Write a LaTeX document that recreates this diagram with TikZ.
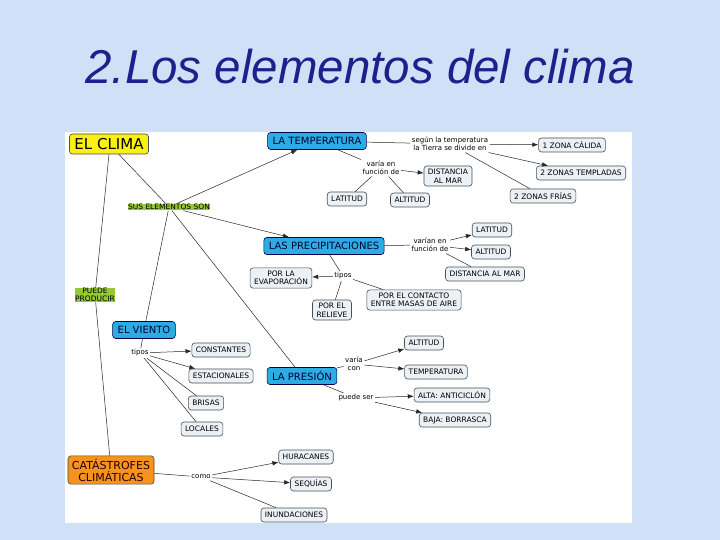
\documentclass[tikz,border=0pt]{standalone}
\usepackage{fontspec}
\setmainfont{DejaVu Sans}
\newfontfamily\titlefont{Liberation Sans}
\usepackage{tikz}
\usetikzlibrary{arrows.meta, positioning}
\definecolor{skyback}{RGB}{208,225,247}
\definecolor{titleblue}{RGB}{30,32,140}
\definecolor{mapblue}{RGB}{45,172,228}
\definecolor{mapyellow}{RGB}{250,240,20}
\definecolor{maporange}{RGB}{246,146,30}
\definecolor{mapgreen}{RGB}{150,200,50}
\definecolor{boxfill}{RGB}{236,241,245}
\definecolor{boxline}{RGB}{70,80,90}

\begin{document}
\begin{tikzpicture}[x=1pt, y=-1pt,
  concept/.style={draw=boxline, fill=boxfill, rounded corners=3pt, line width=0.6pt,
    font=\fontsize{7.5}{8.5}\selectfont, align=center, inner xsep=4pt, inner ysep=3pt, minimum height=14pt},
  mainbox/.style={concept, fill=mapblue, draw=black!70!blue, text=black!80!blue,
    font=\fontsize{10}{11}\selectfont, inner xsep=5pt, minimum height=17pt},
  linktext/.style={font=\fontsize{7}{8}\selectfont, align=center, inner sep=1.5pt},
  tagtext/.style={fill=mapgreen, font=\fontsize{7.5}{7.5}\selectfont, align=center, inner sep=0.6pt},
  wire/.style={draw=black!85, line width=0.5pt},
  arr/.style={wire, -{Latex[length=6pt,width=4.5pt]}}]
  \useasboundingbox (0,0) rectangle (720,540);

  % background
  \fill[skyback] (0,0) rectangle (720,540);
  \fill[white] (65,132) rectangle (632,523);
  \node[font=\titlefont\itshape\fontsize{47.5}{47.5}\selectfont, text=titleblue, anchor=base] (title) at (360,84) {2.Los elementos del clima};

  % main concepts
  \node[mainbox, fill=mapyellow, draw=black!70, text=black, font=\fontsize{15}{16}\selectfont, minimum height=20pt] (clima) at (109,144) {EL CLIMA};
  \node[tagtext] (elementos) at (169,207) {SUS ELEMENTOS SON};
  \node[tagtext] (producir) at (95,295) {PUEDE\\PRODUCIR};
  \node[mainbox] (temp) at (317,141) {LA TEMPERATURA};
  \node[mainbox] (precip) at (324,246) {LAS PRECIPITACIONES};
  \node[mainbox] (viento) at (144,330) {EL VIENTO};
  \node[mainbox] (presion) at (302,376) {LA PRESIÓN};
  \node[mainbox, fill=maporange, draw=black!70, text=black!85!red, font=\fontsize{11}{12}\selectfont, inner xsep=4pt] (catastrofes) at (111,470) {CATÁSTROFES\\CLIMÁTICAS};

  % temperatura
  \node[linktext] (segun) at (450,144) {según la temperatura\\la Tierra se divide en};
  \node[concept] (calida) at (572,145) {1 ZONA CÁLIDA};
  \node[concept] (templadas) at (581,173) {2 ZONAS TEMPLADAS};
  \node[concept] (frias) at (543,196) {2 ZONAS FRÍAS};
  \node[linktext] (variaT) at (381,168) {varía en\\función de};
  \node[concept] (distT) at (448,176) {DISTANCIA\\AL MAR};
  \node[concept] (latT) at (347,199) {LATITUD};
  \node[concept] (altT) at (410,200) {ALTITUD};

  % precipitaciones
  \node[linktext] (variaP) at (430,245) {varían en\\función de};
  \node[concept] (latP) at (492,230) {LATITUD};
  \node[concept] (altP) at (491,252) {ALTITUD};
  \node[concept] (distP) at (485,274) {DISTANCIA AL MAR};
  \node[linktext] (tiposP) at (343,276) {tipos};
  \node[concept] (evap) at (281,278) {POR LA\\EVAPORACIÓN};
  \node[concept] (relieve) at (332,310) {POR EL\\RELIEVE};
  \node[concept] (contacto) at (414,300) {POR EL CONTACTO\\ENTRE MASAS DE AIRE};

  % viento
  \node[linktext] (tiposV) at (140,353) {tipos};
  \node[concept] (constantes) at (221,350) {CONSTANTES};
  \node[concept] (estacionales) at (221,376) {ESTACIONALES};
  \node[concept] (brisas) at (206,403) {BRISAS};
  \node[concept] (locales) at (202,429) {LOCALES};

  % presion
  \node[linktext] (variaPr) at (354,364) {varía\\con};
  \node[concept] (altPr) at (424,343) {ALTITUD};
  \node[concept] (tempPr) at (436,372) {TEMPERATURA};
  \node[linktext] (puede) at (356,398) {puede ser};
  \node[concept] (alta) at (452,395) {ALTA: ANTICICLÓN};
  \node[concept] (baja) at (455,420) {BAJA: BORRASCA};

  % catastrofes
  \node[linktext] (como) at (201,477) {como};
  \node[concept] (huracanes) at (306,457) {HURACANES};
  \node[concept] (sequias) at (311,484) {SEQUÍAS};
  \node[concept] (inundaciones) at (294,515) {INUNDACIONES};

  % links
  \draw[wire] (clima) -- (elementos);
  \draw[wire] (clima.south) -- (producir);
  \draw[wire] (producir) -- (catastrofes);
  \draw[arr] (elementos) -- (temp);
  \draw[arr] (elementos) -- (precip);
  \draw[wire] (elementos) -- (viento);
  \draw[wire] (elementos) -- (presion);

  \draw[wire] (temp) -- (segun);
  \draw[arr] (segun) -- (calida);
  \draw[arr] (segun) -- (templadas);
  \draw[wire] (segun) -- (frias);
  \draw[wire] (temp) -- (variaT);
  \draw[arr] (variaT) -- (distT);
  \draw[wire] (variaT) -- (latT);
  \draw[wire] (variaT) -- (altT);

  \draw[wire] (precip) -- (variaP);
  \draw[arr] (variaP) -- (latP);
  \draw[arr] (variaP) -- (altP);
  \draw[wire] (variaP) -- (distP);
  \draw[wire] (precip) -- (tiposP);
  \draw[arr] (tiposP) -- (evap);
  \draw[wire] (tiposP) -- (relieve);
  \draw[wire] (tiposP) -- (contacto);

  \draw[wire] (viento) -- (tiposV);
  \draw[arr] (tiposV) -- (constantes);
  \draw[arr] (tiposV) -- (estacionales);
  \draw[wire] (tiposV) -- (brisas);
  \draw[wire] (tiposV) -- (locales);

  \draw[wire] (presion) -- (variaPr);
  \draw[arr] (variaPr) -- (altPr);
  \draw[arr] (variaPr) -- (tempPr);
  \draw[wire] (presion) -- (puede);
  \draw[arr] (puede) -- (alta);
  \draw[arr] (puede) -- (baja);

  \draw[wire] (catastrofes) -- (como);
  \draw[arr] (como) -- (huracanes);
  \draw[arr] (como) -- (sequias);
  \draw[wire] (como) -- (inundaciones);
\end{tikzpicture}
\end{document}
